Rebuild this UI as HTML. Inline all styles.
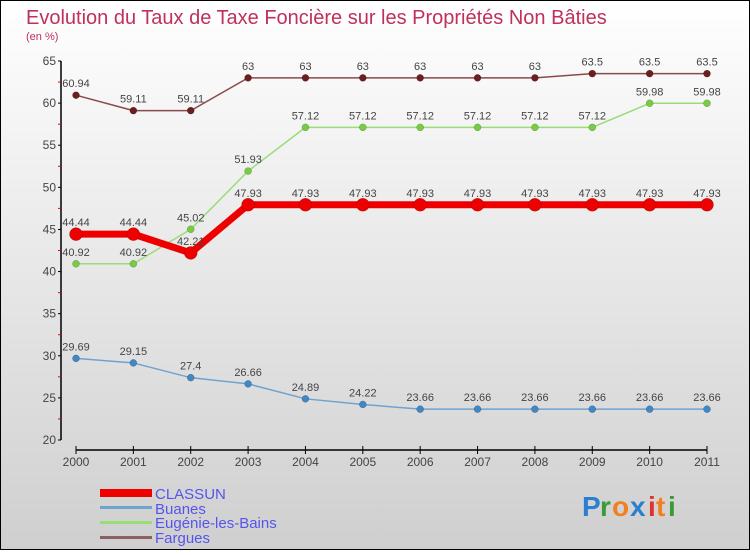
<!DOCTYPE html>
<html><head><meta charset="utf-8"><style>
html,body{margin:0;padding:0}
body{width:750px;height:550px;overflow:hidden;font-family:"Liberation Sans",sans-serif}
</style></head><body>
<svg id="chart" width="750" height="550" xmlns="http://www.w3.org/2000/svg" font-family="Liberation Sans, sans-serif">
<defs><linearGradient id="bg" x1="0" y1="0" x2="0" y2="1"><stop offset="0" stop-color="#ffffff"/><stop offset="1" stop-color="#cfcfcf"/></linearGradient></defs>
<rect x="0.5" y="0.5" width="749" height="549" fill="url(#bg)" stroke="#000" stroke-width="1"/>
<text x="26" y="24" font-size="20" fill="#c0305a">Evolution du Taux de Taxe Foncière sur les Propriétés Non Bâties</text>
<text x="26" y="40" font-size="11" fill="#c0305a">(en %)</text>
<g id="axes"></g>
<g id="series"></g>
<g>
<rect x="100" y="489" width="52" height="8" fill="#e00"/>
<text x="155" y="499" font-size="15" fill="#5555ee">CLASSUN</text>
<rect x="100" y="506" width="52" height="3" fill="#6fa3cf"/>
<text x="155" y="514" font-size="15" fill="#5555ee">Buanes</text>
<rect x="100" y="521" width="52" height="3" fill="#99dd77"/>
<text x="155" y="528" font-size="15" fill="#5555ee">Eugénie-les-Bains</text>
<rect x="100" y="536" width="52" height="3" fill="#8b6060"/>
<text x="155" y="543" font-size="15" fill="#5555ee">Fargues</text>
</g>
<g font-size="28" font-weight="bold">
<text x="582" y="516" fill="#2a7fd0">P</text><text x="600" y="516" fill="#3a9a3a">r</text><text x="612" y="516" fill="#f08020">o</text><text x="630" y="516" fill="#2a7fd0">x</text><text x="648" y="516" fill="#e03030">i</text><text x="656" y="516" fill="#f08020">t</text><text x="668" y="516" fill="#3a9a3a">i</text>
</g>
</svg>
<script>
const years=[2000,2001,2002,2003,2004,2005,2006,2007,2008,2009,2010,2011];
const yTicks=[20,25,30,35,40,45,50,55,60,65];
const classun=[44.44,44.44,42.21,47.93,47.93,47.93,47.93,47.93,47.93,47.93,47.93,47.93];
const buanes=[29.69,29.15,27.4,26.66,24.89,24.22,23.66,23.66,23.66,23.66,23.66,23.66];
const eugenie=[40.92,40.92,45.02,51.93,57.12,57.12,57.12,57.12,57.12,57.12,59.98,59.98];
const fargues=[60.94,59.11,59.11,63,63,63,63,63,63,63.5,63.5,63.5];
const NS="http://www.w3.org/2000/svg";
const x=i=>76+i*(707-76)/(years.length-1);
const y=v=>440-(v-20)*(440-61)/45;
function mk(tag,attrs,parent){const e=document.createElementNS(NS,tag);for(const k in attrs)e.setAttribute(k,attrs[k]);parent.appendChild(e);return e;}
const ax=document.getElementById('axes');
const yl=mk('line',{x1:61,y1:61,x2:61,y2:440,stroke:'#000','stroke-width':1.5},ax);


yTicks.forEach(t=>{
 mk('line',{x1:58,y1:y(t),x2:61,y2:y(t),stroke:'#000'},ax);
 if(t<65){mk('line',{x1:58,y1:y(t+2.5),x2:61,y2:y(t+2.5),stroke:'#e00'},ax);}
 const tx=mk('text',{x:56,y:y(t)+4,'font-size':12,'text-anchor':'end',fill:'#444'},ax);
 
 
 tx.textContent=t;
});
const xl=mk('line',{x1:76,y1:450,x2:707,y2:450,stroke:'#000','stroke-width':1.5},ax);


years.forEach((yr,i)=>{
 mk('line',{x1:x(i),y1:446,x2:x(i),y2:454,stroke:'#000'},ax);
 const tx=mk('text',{x:x(i),y:466,'font-size':12,'text-anchor':'middle',fill:'#444'},ax);
 
 
 tx.textContent=yr;
});
const sg=document.getElementById('series');
function draw(name,vals,color,dot,w,r){
 const g=mk('g',{},sg);
 
 
 mk('polyline',{points:vals.map((v,i)=>x(i)+','+y(v)).join(' '),fill:'none',stroke:color,'stroke-width':w},g);
 vals.forEach((v,i)=>{
  const c=mk('circle',{cx:x(i),cy:y(v),r:r,fill:dot,stroke:'rgba(0,0,0,0.3)','stroke-width':0.5},g);
  
  
  const t=mk('text',{x:x(i),y:y(v)-8,'font-size':11,'text-anchor':'middle',fill:'#444'},g);
  
  
  t.textContent=v;
 });
}
draw('fargues',fargues,'#8b4a4a','#6b1f1f',1.5,3.5);
draw('eugenie',eugenie,'#99dd77','#77cc44',1.5,3.5);
draw('buanes',buanes,'#6fa3cf','#3f88c5',1.5,3.5);
draw('classun',classun,'#ee0000','#ee0000',7,6.5);
</script>
</body></html>
